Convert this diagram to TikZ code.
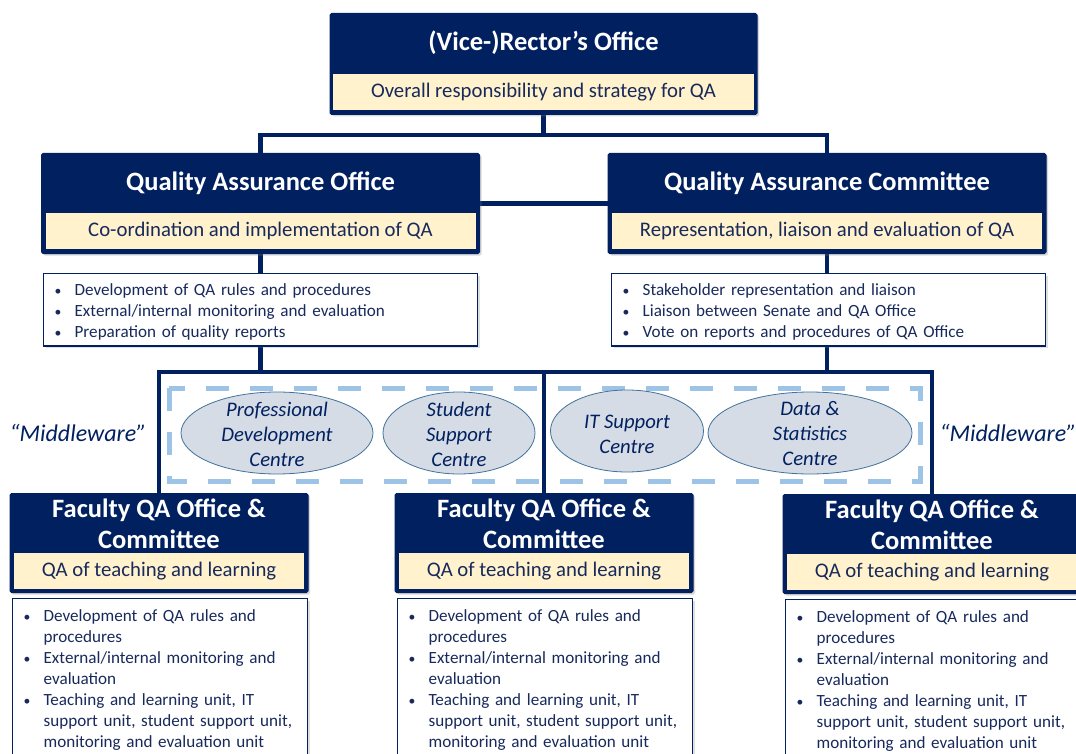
\documentclass[tikz,border=0pt]{standalone}
\usepackage{fontspec}
\setmainfont{Carlito}
\usetikzlibrary{shapes.geometric,shadows,backgrounds}

\definecolor{qanavy}{RGB}{0,32,96}
\definecolor{qatext}{RGB}{24,42,92}
\definecolor{qacream}{RGB}{255,242,204}
\definecolor{qagrey}{RGB}{214,220,229}
\definecolor{qaedge}{RGB}{65,113,156}
\definecolor{qadash}{RGB}{157,195,230}

% one bullet line, wrapped lines (\newline) hang under the text
\newcommand{\qaitem}[1]{\par\hangindent=20pt\hangafter=1\noindent
  \makebox[20pt][l]{\scalebox{0.8}{\textbullet}}#1}

\tikzset{
  unitbox/.style={draw=qanavy, fill=qanavy, line width=1pt, rounded corners=1.5pt, anchor=north,
    drop shadow={shadow xshift=2pt, shadow yshift=-2pt, opacity=0.3}},
  unittitle/.style={text=white, align=center, font=\fontsize{26.5}{31}\selectfont\bfseries},
  rolebar/.style={fill=qacream, text=qatext, minimum height=36pt, inner sep=0pt,
    font=\fontsize{20.75}{24}\selectfont},
  listbox/.style={draw=qanavy, fill=white, line width=1.3pt, anchor=north west, text=qatext,
    align=left, inner xsep=11pt, font=\fontsize{17.1}{21}\selectfont,
    drop shadow={shadow xshift=2pt, shadow yshift=-2pt, opacity=0.25}},
  centre/.style={ellipse, draw=qaedge, fill=qagrey, line width=0.8pt, inner sep=0pt},
  centrelabel/.style={text=qanavy, align=center, font=\fontsize{20.7}{25}\selectfont\itshape},
  middle/.style={text=qanavy, font=\fontsize{24}{28}\selectfont\itshape},
  link/.style={draw=qanavy, line width=4.5pt},
  middash/.style={draw=qadash, line width=5pt, dash pattern=on 23pt off 21pt},
}

\begin{document}
\begin{tikzpicture}[x=1pt, y=-1pt]
    \clip (0,0) rectangle (1076,754);

    % Rector's office
    \node[unitbox, minimum width=427pt, minimum height=101pt] (rector) at (543.5,13) {};
    \node[unittitle] (rectortitle) at (543.5,43) {(Vice-)Rector’s Office};
    \node[rolebar, minimum width=421pt] (rectorrole) at (543.5,92) {Overall responsibility and strategy for QA};

    % QA office and QA committee
    \node[unitbox, minimum width=438pt, minimum height=100pt] (qao) at (260.5,153) {};
    \node[unittitle] (qaotitle) at (260.5,183) {Quality Assurance Office};
    \node[rolebar, minimum width=430pt] (qaorole) at (260.5,231) {Co-ordination and implementation of QA};
    \node[listbox, text width=412pt, inner ysep=1pt] (qaolist) at (43,273) {%
        \qaitem{Development of QA rules and procedures}
        \qaitem{External/internal monitoring and evaluation}
        \qaitem{Preparation of quality reports}\par\vspace*{4.5pt}};

    \node[unitbox, minimum width=438pt, minimum height=100pt] (qac) at (827,153) {};
    \node[unittitle] (qactitle) at (827,183) {Quality Assurance Committee};
    \node[rolebar, minimum width=430pt] (qacrole) at (827,231) {Representation, liaison and evaluation of QA};
    \node[listbox, text width=412pt, inner ysep=1pt] (qaclist) at (611,273) {%
        \qaitem{Stakeholder representation and liaison}
        \qaitem{Liaison between Senate and QA Office}
        \qaitem{Vote on reports and procedures of QA Office}\par\vspace*{4.5pt}};

    % support centres
    \draw[middash] (169,388) rectangle (920,481);
    \node[centre, minimum width=192pt, minimum height=82pt] (pdc) at (277,433) {};
    \node[centrelabel] (pdctext) at (277,434) {Professional\\Development\\Centre};
    \node[centre, minimum width=152pt, minimum height=82pt] (ssc) at (459,433) {};
    \node[centrelabel] (ssctext) at (459,434) {Student\\Support\\Centre};
    \node[centre, minimum width=153pt, minimum height=82pt] (itc) at (627,431) {};
    \node[centrelabel] (itctext) at (627,434) {IT Support\\Centre};
    \node[centre, minimum width=204pt, minimum height=82pt] (dsc) at (810,433) {};
    \node[centrelabel] (dsctext) at (810,434) {Data \&\\Statistics\\Centre};

    \node[middle] (mwleft) at (78,433) {“Middleware”};
    \node[middle] (mwright) at (1008,433) {“Middleware”};

    % faculty units
    \foreach \n/\x/\y in {1/159/493, 2/544/493, 3/932/494} {
        \node[unitbox, minimum width=298pt, minimum height=99pt] (fac\n) at (\x,\y) {};
        \node[unittitle] (factitle\n) at (\x,\y+30.5) {Faculty QA Office \&\\Committee};
        \node[rolebar, minimum width=290pt] (facrole\n) at (\x,\y+78) {QA of teaching and learning};
        \node[listbox, text width=273pt, inner ysep=1.5pt] (faclist\n) at (\x-147,\y+105) {%
            \qaitem{Development of QA rules and\newline procedures}
            \qaitem{External/internal monitoring and\newline evaluation}
            \qaitem{Teaching and learning unit, IT\newline support unit, student support unit,\newline monitoring and evaluation unit}\par\vspace*{14pt}};
    }

    % connectors
    \coordinate (bus) at (0,372);
    \begin{scope}[on background layer]
        \draw[link] (rector.south) -- ++(0,20) -| (qao.north);
        \draw[link] (rector.south) -- ++(0,20) -| (qac.north);
        \draw[link] (qao.east) -- (qac.west);
        \draw[link] (qao.south) -- (qaolist.north -| qao.south);
        \draw[link] (qac.south) -- (qaclist.north -| qac.south);
        \draw[link] (qaolist.south -| qao.south) -- (bus -| qao.south);
        \draw[link] (qaclist.south -| qac.south) -- (bus -| qac.south);
        \draw[link, line cap=rect] (fac1.north) -- (bus -| fac1.north) -- (bus -| fac3.north) -- (fac3.north);
        \draw[link] (fac2.north) -- (bus -| fac2.north);
    \end{scope}
\end{tikzpicture}
\end{document}
